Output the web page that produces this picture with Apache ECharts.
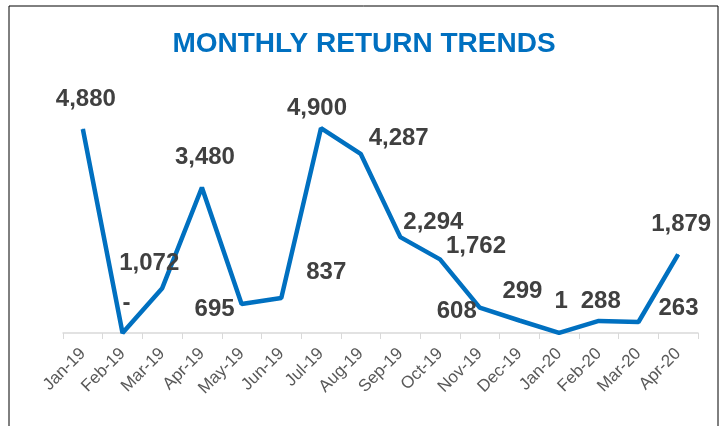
<!DOCTYPE html>
<html>
<head>
<meta charset="utf-8">
<script src="https://cdn.jsdelivr.net/npm/echarts@6/dist/echarts.min.js"></script>
<style>
  html, body { margin: 0; padding: 0; background: #fff; }
  #main { width: 728px; height: 426px; }
</style>
</head>
<body>
<div id="main"></div>
<script>
// 月份
var months = ['Jan-19', 'Feb-19', 'Mar-19', 'Apr-19', 'May-19', 'Jun-19', 'Jul-19', 'Aug-19',
              'Sep-19', 'Oct-19', 'Nov-19', 'Dec-19', 'Jan-20', 'Feb-20', 'Mar-20', 'Apr-20'];
// 每月退货数
var returns = [4880, 0, 1072, 3480, 695, 837, 4900, 4287, 2294, 1762, 608, 299, 1, 288, 263, 1879];

// 数据标签偏移（手工摆放，跟原图对齐）
var labelShift = [[3, -30], [4, -30], [-13, -25], [3, -30], [-27, 5], [45, -26], [-4, -20], [38, -15],
                  [33, -15], [36, -13], [-23, 4], [3, -29], [2, -32], [2, -20], [40, -14], [3, -30]];

var chart = echarts.init(document.getElementById('main'));

var seriesData = returns.map(function (v, i) {
    return {
        value: v,
        label: { offset: labelShift[i] }
    };
});

var option = {
    animation: false,
    title: {
        text: 'MONTHLY RETURN TRENDS',
        left: 'center',
        top: 25,
        textStyle: {
            color: '#0070C0',
            fontSize: 28,
            fontWeight: 'bold',
            fontFamily: 'Liberation Sans'
        }
    },
    graphic: [{
        type: 'rect',
        shape: { x: 9, y: 6, width: 709, height: 440 },
        style: { fill: 'none', stroke: '#000', lineWidth: 1 },
        silent: true
    }],
    grid: {
        left: 63,
        right: 30,
        top: 124,
        bottom: 93
    },
    xAxis: {
        type: 'category',
        data: months,
        boundaryGap: true,
        axisLine: { lineStyle: { color: '#d9d9d9', width: 1.5 } },
        axisTick: { show: true, length: 6, lineStyle: { color: '#d9d9d9' } },
        axisLabel: {
            rotate: 45,
            interval: 0,
            color: '#595959',
            fontSize: 17,
            fontFamily: 'Liberation Sans',
            margin: 18
        }
    },
    yAxis: {
        type: 'value',
        min: 0,
        max: 5000,
        show: false,
        splitLine: { show: false }
    },
    series: [{
        type: 'line',
        data: seriesData,
        showSymbol: true,
        symbol: 'circle',
        symbolSize: 1,
        itemStyle: { color: '#0070C0' },
        lineStyle: { color: '#0070C0', width: 4.5 },
        label: {
            show: true,
            position: 'inside',
            color: '#404040',
            fontSize: 24,
            fontWeight: 'bold',
            fontFamily: 'Liberation Sans',
            formatter: function (p) {
                return p.value === 0 ? '-' : p.value.toLocaleString('en-US');
            }
        }
    }]
};

chart.setOption(option);
</script>
</body>
</html>
